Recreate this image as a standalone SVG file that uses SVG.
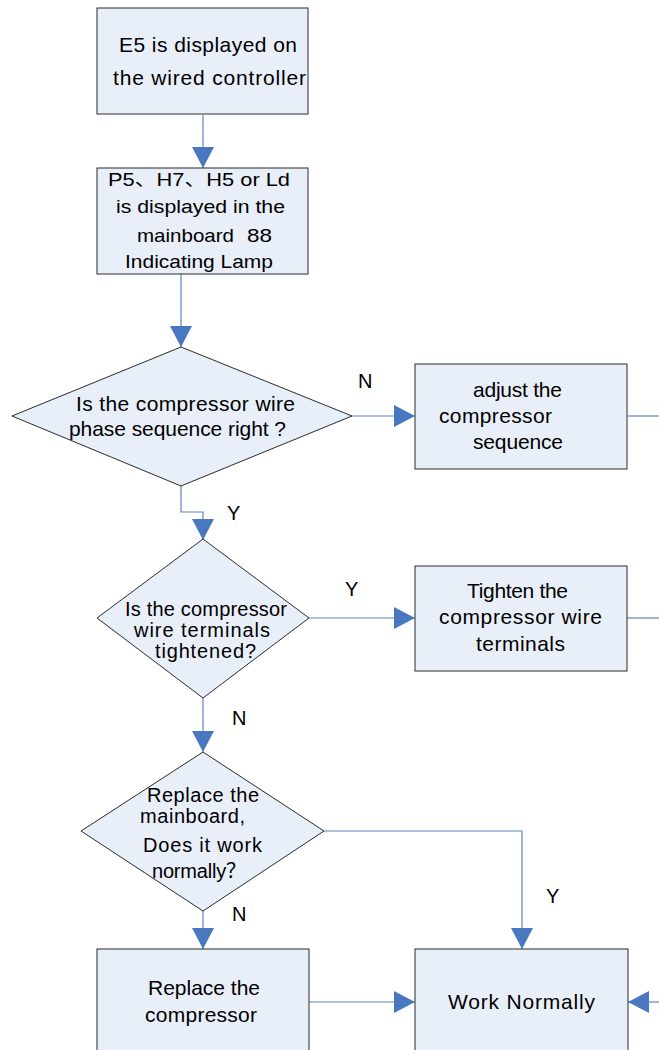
<svg xmlns="http://www.w3.org/2000/svg" width="659" height="1050" viewBox="0 0 659 1050">
<style>
.n{fill:#E9EFF8;stroke:#2b2b2b;stroke-width:1}
.t{font-family:"Liberation Sans","Noto Sans CJK SC",sans-serif;fill:#000}
.c{fill:none;stroke:#5B86C5;stroke-width:1.2}
.l{font-family:"Liberation Sans",sans-serif;font-size:20px;fill:#000}
</style>
<defs>
<marker id="ah" markerUnits="userSpaceOnUse" markerWidth="22" markerHeight="22" viewBox="0 0 22 22" refX="21" refY="11" orient="auto">
<path d="M0,0 L21,11 L0,22 z" fill="#4A78C0"/>
</marker>
</defs>
<rect width="659" height="1050" fill="#fff"/>
<g id="connectors">
<path class="c" d="M203,115 V168" marker-end="url(#ah)"/>
<path class="c" d="M181,274 V347" marker-end="url(#ah)"/>
<path class="c" d="M181,486 V512 H203 V540" marker-end="url(#ah)"/>
<path class="c" d="M352,416 H415" marker-end="url(#ah)"/>
<path class="c" d="M627,416 H659"/>
<path class="c" d="M309,618 H415" marker-end="url(#ah)"/>
<path class="c" d="M627,618 H659"/>
<path class="c" d="M203,698 V752" marker-end="url(#ah)"/>
<path class="c" d="M324,831 H522 V949" marker-end="url(#ah)"/>
<path class="c" d="M203,911 V949" marker-end="url(#ah)"/>
<path class="c" d="M309,1002 H415" marker-end="url(#ah)"/>
<path class="c" d="M659,1002 H628" marker-end="url(#ah)"/>
<text class="l" x="358" y="388">N</text>
<text class="l" x="227" y="520">Y</text>
<text class="l" x="345" y="596">Y</text>
<text class="l" x="232" y="725">N</text>
<text class="l" x="232" y="921">N</text>
<text class="l" x="546" y="903">Y</text>
</g>
<g id="n1">
<rect class="n" x="97" y="8" width="211" height="106"/>
<text class="t" font-size="21" x="119" y="52" textLength="178">E5 is displayed on</text>
<text class="t" font-size="21" x="113" y="85" textLength="193">the wired controller</text>
</g>
<g id="n2">
<rect class="n" x="97" y="168" width="211" height="106"/>
<text class="t" font-size="19" x="108" y="186" textLength="182" lengthAdjust="spacingAndGlyphs">P5、H7、H5 or Ld</text>
<text class="t" font-size="19" x="116" y="213" textLength="169" lengthAdjust="spacingAndGlyphs">is displayed in the</text>
<text class="t" font-size="19" x="137" y="242" textLength="97" lengthAdjust="spacingAndGlyphs">mainboard</text>
<text class="t" font-size="19" x="247" y="242" textLength="25" lengthAdjust="spacingAndGlyphs">88</text>
<text class="t" font-size="19" x="125" y="268" textLength="148" lengthAdjust="spacingAndGlyphs">Indicating Lamp</text>
</g>
<g id="d1">
<polygon class="n" points="181,347 352,416 181,486 12,416"/>
<text class="t" font-size="21" x="76" y="411" textLength="219">Is the compressor wire</text>
<text class="t" font-size="21" x="69" y="436" textLength="217">phase sequence right ?</text>
</g>
<g id="n3">
<rect class="n" x="415" y="364" width="212" height="105"/>
<text class="t" font-size="21" x="473" y="397" textLength="89">adjust the</text>
<text class="t" font-size="21" x="439" y="423" textLength="113">compressor</text>
<text class="t" font-size="21" x="473" y="449" textLength="90">sequence</text>
</g>
<g id="d2">
<polygon class="n" points="203,539 309,618 203,698 97,618"/>
<text class="t" font-size="20" x="125" y="616" textLength="162">Is the compressor</text>
<text class="t" font-size="20" x="134" y="637" textLength="136">wire terminals</text>
<text class="t" font-size="20" x="155" y="658" textLength="101">tightened?</text>
</g>
<g id="n4">
<rect class="n" x="415" y="566" width="212" height="105"/>
<text class="t" font-size="21" x="467" y="598" textLength="101">Tighten the</text>
<text class="t" font-size="21" x="439" y="624" textLength="163">compressor wire</text>
<text class="t" font-size="21" x="476" y="651" textLength="89">terminals</text>
</g>
<g id="d3">
<polygon class="n" points="203,752 324,831 203,911 81,831"/>
<text class="t" font-size="20" x="147" y="802" textLength="112">Replace the</text>
<text class="t" font-size="20" x="140" y="823" textLength="105">mainboard,</text>
<text class="t" font-size="20" x="143" y="852" textLength="119">Does it work</text>
<text class="t" font-size="20" x="152" y="878" textLength="94">normally？</text>
</g>
<g id="n5">
<rect class="n" x="97" y="949" width="212" height="112"/>
<text class="t" font-size="21" x="148" y="995" textLength="112">Replace the</text>
<text class="t" font-size="21" x="145" y="1022" textLength="112">compressor</text>
</g>
<g id="n6">
<rect class="n" x="415" y="949" width="213" height="112"/>
<text class="t" font-size="21" x="448" y="1009" textLength="147">Work Normally</text>
</g>
</svg>
